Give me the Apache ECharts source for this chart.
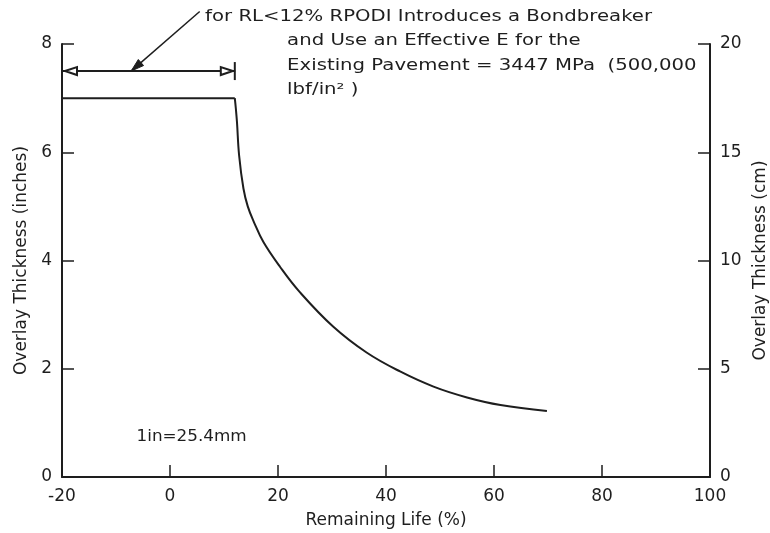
<!DOCTYPE html>
<html>
<head>
<meta charset="utf-8">
<script src="https://cdn.jsdelivr.net/npm/echarts@6/dist/echarts.min.js"></script>
<style>
    html, body { margin: 0; padding: 0; background: #fff; }
    #chart { width: 770px; height: 533px; }
</style>
</head>
<body>
<div id="chart"></div>
<script>
    // 数据
    var xTicks = [-20, 0, 20, 40, 60, 80, 100];
    var inchTicks = [0, 2, 4, 6, 8];
    var cmTicks = [0, 5, 10, 15, 20];
    // 平台段 (RL < 12%)
    var flatLife = [-20, 12];
    var flatThick = [7, 7];
    // 曲线段
    var curveLife = [12, 12.2, 12.4, 12.8, 13.6, 14.4, 15.5, 17.3, 20.4, 24, 30.2, 36.4, 42.6, 48.8, 55, 61.2, 69.8];
    var curveThick = [7, 6.8, 6.56, 5.94, 5.33, 5.0, 4.72, 4.34, 3.88, 3.42, 2.78, 2.3, 1.95, 1.67, 1.47, 1.33, 1.22];
    // 注释
    var noteLines = [
        'for RL<12% RPODI Introduces a Bondbreaker',
        'and Use an Effective E for the',
        'Existing Pavement = 3447 MPa  (500,000',
        'lbf/in\u00B2 )'
    ];
    var unitNote = '1in=25.4mm';

    var ink = '#1e1e1e';
    var font = 'DejaVu Sans';

    function pairs(xs, ys) {
        var out = [];
        for (var i = 0; i < xs.length; i++) {
            out.push([xs[i], ys[i]]);
        }
        return out;
    }

    var myChart = echarts.init(document.getElementById('chart'));
    var option = {
        backgroundColor: '#fff',
        animation: false,
        grid: {
            left: 62,
            right: 60,
            top: 44,
            bottom: 56,
            containLabel: false,
            outerBoundsMode: 'none'
        },
        xAxis: {
            type: 'value',
            min: xTicks[0],
            max: xTicks[xTicks.length - 1],
            interval: 20,
            name: 'Remaining Life (%)',
            nameLocation: 'middle',
            nameGap: 35,
            nameTextStyle: {color: ink, fontSize: 17, fontFamily: font},
            axisLine: {onZero: false, lineStyle: {color: ink, width: 2}},
            axisTick: {inside: true, length: 12, lineStyle: {color: ink, width: 1.5}},
            axisLabel: {color: ink, fontSize: 17, fontFamily: font, margin: 11},
            splitLine: {show: false}
        },
        yAxis: [
            {
                type: 'value',
                position: 'left',
                min: inchTicks[0],
                max: inchTicks[inchTicks.length - 1],
                interval: 2,
                name: 'Overlay Thickness (inches)',
                nameLocation: 'middle',
                nameRotate: 90,
                nameGap: 32,
                nameTextStyle: {color: ink, fontSize: 17, fontFamily: font},
                axisLine: {show: true, onZero: false, lineStyle: {color: ink, width: 2}},
                axisTick: {show: true, inside: true, length: 12, lineStyle: {color: ink, width: 1.5}},
                axisLabel: {color: ink, fontSize: 17, fontFamily: font, margin: 10},
                splitLine: {show: false}
            },
            {
                type: 'value',
                position: 'right',
                min: cmTicks[0],
                max: cmTicks[cmTicks.length - 1],
                interval: 5,
                name: 'Overlay Thickness (cm)',
                nameLocation: 'middle',
                nameRotate: 90,
                nameGap: 37,
                nameTextStyle: {color: ink, fontSize: 17, fontFamily: font},
                axisLine: {show: true, onZero: false, lineStyle: {color: ink, width: 2}},
                axisTick: {show: true, inside: true, length: 12, lineStyle: {color: ink, width: 1.5}},
                axisLabel: {color: ink, fontSize: 17, fontFamily: font, margin: 10},
                splitLine: {show: false}
            }
        ],
        series: [
            {
                type: 'line',
                yAxisIndex: 0,
                showSymbol: false,
                lineStyle: {color: ink, width: 2},
                data: pairs(flatLife, flatThick)
            },
            {
                type: 'line',
                yAxisIndex: 0,
                showSymbol: false,
                smooth: 0.4,
                lineStyle: {color: ink, width: 2},
                data: pairs(curveLife, curveThick)
            }
        ]
    };
    myChart.setOption(option);

    // 注释: 箭头和文字
    function px(x, y) {
        return myChart.convertToPixel({seriesIndex: 0}, [x, y]);
    }
    var a = px(-20, 7.5);
    var b = px(12, 7.5);
    var tip = px(-7.2, 7.5);
    var from = px(5.5, 8.6);
    var noteAt = px(6.5, 8.5);
    var unitAt = px(-6.2, 0.73);
    var ah = 12, aw = 4;
    var dx = tip[0] - from[0], dy = tip[1] - from[1];
    var len = Math.sqrt(dx * dx + dy * dy);
    var ux = dx / len, uy = dy / len;

    var graphics = [
        {type: 'line', shape: {x1: a[0], y1: a[1], x2: b[0], y2: b[1]}, style: {stroke: ink, lineWidth: 2}},
        {type: 'polygon', shape: {points: [[a[0] + 3, a[1]], [a[0] + 3 + ah, a[1] - aw], [a[0] + 3 + ah, a[1] + aw]]},
            style: {fill: '#fff', stroke: ink, lineWidth: 2}},
        {type: 'polygon', shape: {points: [[b[0] - 2, b[1]], [b[0] - 2 - ah, b[1] - aw], [b[0] - 2 - ah, b[1] + aw]]},
            style: {fill: '#fff', stroke: ink, lineWidth: 2}},
        {type: 'line', shape: {x1: b[0], y1: b[1] - 9, x2: b[0], y2: b[1] + 9}, style: {stroke: ink, lineWidth: 2}},
        {type: 'line', shape: {x1: from[0], y1: from[1], x2: tip[0], y2: tip[1]}, style: {stroke: ink, lineWidth: 1.5}},
        {type: 'polygon', shape: {points: [
            [tip[0], tip[1]],
            [tip[0] - ux * 13 - uy * 4, tip[1] - uy * 13 + ux * 4],
            [tip[0] - ux * 13 + uy * 4, tip[1] - uy * 13 - ux * 4]
        ]}, style: {fill: ink, stroke: ink, lineWidth: 1}},
        {type: 'text', x: unitAt[0], y: unitAt[1], scaleX: 1.12,
            style: {text: unitNote, fill: ink, fontSize: 15, fontFamily: font, verticalAlign: 'middle'}}
    ];
    var offsets = [0, 82, 82, 82];
    for (var i = 0; i < noteLines.length; i++) {
        graphics.push({
            type: 'text',
            x: noteAt[0] + offsets[i],
            y: noteAt[1] + i * 24.5,
            scaleX: 1.27,
            style: {text: noteLines[i], fill: ink, fontSize: 15.5, fontFamily: font, verticalAlign: 'middle'}
        });
    }
    myChart.setOption({graphic: graphics});
</script>
</body>
</html>
